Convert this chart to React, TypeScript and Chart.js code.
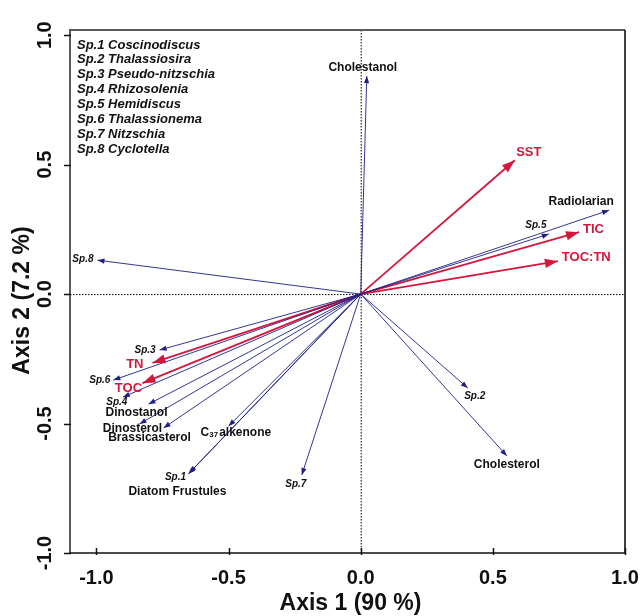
import React, { useEffect, useRef } from 'react';
import { Chart, registerables } from 'chart.js';
Chart.register(...registerables);

// ---- data ----
const speciesNames = ['Sp.1', 'Sp.2', 'Sp.3', 'Sp.4', 'Sp.5', 'Sp.6', 'Sp.7', 'Sp.8'];
const speciesGenus = ['Coscinodiscus', 'Thalassiosira', 'Pseudo-nitzschia', 'Rhizosolenia', 'Hemidiscus', 'Thalassionema', 'Nitzschia', 'Cyclotella'];
const speciesX = [-0.648, 0.405, -0.761, -0.9, 0.712, -0.936, -0.223, -0.996];
const speciesY = [-0.69, -0.363, -0.216, -0.398, 0.232, -0.332, -0.699, 0.131];

const proxyNames = ['Cholestanol', 'Radiolarian', 'Dinostanol', 'Dinosterol', 'Brassicasterol', 'C37 alkenone', 'Diatom Frustules', 'Cholesterol'];
const proxyX = [0.023, 0.94, -0.803, -0.837, -0.746, -0.5, -0.652, 0.553];
const proxyY = [0.842, 0.324, -0.425, -0.502, -0.517, -0.51, -0.695, -0.625];

const envNames = ['SST', 'TIC', 'TOC:TN', 'TN', 'TOC'];
const envX = [0.583, 0.826, 0.746, -0.788, -0.826];
const envY = [0.517, 0.239, 0.127, -0.266, -0.344];

const xTicks = [-1.0, -0.5, 0.0, 0.5, 1.0];
const yTicks = [-1.0, -0.5, 0.0, 0.5, 1.0];
const xTitle = 'Axis 1 (90 %)';
const yTitle = 'Axis 2 (7.2 %)';

// ---- label placement (pixel offsets from arrow tip) ----
type Off = [number, number, CanvasTextAlign];
const speciesLabelOff: Off[] = [
  [-14, 5, 'center'], [7, 8, 'center'], [-4, 0, 'right'], [-6, 5, 'center'],
  [-13, -9, 'center'], [-3, 0, 'right'], [-6, 9, 'center'], [-4, -1, 'right'],
];
const proxyLabelOff: Off[] = [
  [-4, -8, 'center'], [-28, -9, 'center'], [-12, 9, 'center'], [-7, 5, 'center'],
  [-14, 10, 'center'], [-28, 7, 'left'], [-11, 18, 'center'], [0, 9, 'center'],
];
const envLabelOff: Off[] = [
  [14, -8, 'center'], [4, -3, 'left'], [4, -4, 'left'], [-9, 1, 'right'], [-14, 5, 'center'],
];

const BLUE = '#1f1f86';
const RED = '#d3173d';
const FONT = 'Arial, "Liberation Sans", Helvetica, sans-serif';

function drawHead(ctx: CanvasRenderingContext2D, x0: number, y0: number, x1: number, y1: number, len: number, hw: number, color: string) {
  const a = Math.atan2(y1 - y0, x1 - x0);
  ctx.save();
  ctx.fillStyle = color;
  ctx.beginPath();
  ctx.moveTo(x1, y1);
  ctx.lineTo(x1 - len * Math.cos(a) + hw * Math.sin(a), y1 - len * Math.sin(a) - hw * Math.cos(a));
  ctx.lineTo(x1 - len * Math.cos(a) - hw * Math.sin(a), y1 - len * Math.sin(a) + hw * Math.cos(a));
  ctx.closePath();
  ctx.fill();
  ctx.restore();
}

const biplotPlugin = {
  id: 'biplot',
  beforeDatasetsDraw(chart: any) {
    const { ctx, chartArea, scales } = chart;
    const x0 = scales.x.getPixelForValue(0);
    const y0 = scales.y.getPixelForValue(0);
    ctx.save();
    ctx.strokeStyle = '#000';
    ctx.lineWidth = 1;
    ctx.setLineDash([1.5, 1.5]);
    ctx.beginPath();
    ctx.moveTo(x0 + 0.5, chartArea.top);
    ctx.lineTo(x0 + 0.5, chartArea.bottom);
    ctx.moveTo(chartArea.left, y0 + 0.5);
    ctx.lineTo(chartArea.right, y0 + 0.5);
    ctx.stroke();
    ctx.restore();
  },
  afterDatasetsDraw(chart: any) {
    const { ctx, chartArea, scales } = chart;
    const sx = scales.x, sy = scales.y;
    const ox = sx.getPixelForValue(0), oy = sy.getPixelForValue(0);

    // arrowheads
    speciesX.forEach((v, i) => drawHead(ctx, ox, oy, sx.getPixelForValue(v), sy.getPixelForValue(speciesY[i]), 7, 2.6, BLUE));
    proxyX.forEach((v, i) => drawHead(ctx, ox, oy, sx.getPixelForValue(v), sy.getPixelForValue(proxyY[i]), 7, 2.6, BLUE));
    envX.forEach((v, i) => drawHead(ctx, ox, oy, sx.getPixelForValue(v), sy.getPixelForValue(envY[i]), 13, 4.6, RED));

    ctx.save();
    ctx.textBaseline = 'middle';
    // species labels
    ctx.fillStyle = '#111';
    ctx.font = `italic bold 10px ${FONT}`;
    speciesNames.forEach((n, i) => {
      const [dx, dy, al] = speciesLabelOff[i];
      ctx.textAlign = al;
      ctx.fillText(n, sx.getPixelForValue(speciesX[i]) + dx, sy.getPixelForValue(speciesY[i]) + dy);
    });
    // proxy labels
    proxyNames.forEach((n, i) => {
      const [dx, dy, al] = proxyLabelOff[i];
      const px = sx.getPixelForValue(proxyX[i]) + dx;
      const py = sy.getPixelForValue(proxyY[i]) + dy;
      if (n.startsWith('C37')) {
        ctx.textAlign = 'left';
        ctx.font = `bold 12px ${FONT}`;
        ctx.fillText('C', px, py);
        const w1 = ctx.measureText('C').width;
        ctx.font = `bold 8px ${FONT}`;
        ctx.fillText('37', px + w1, py + 2);
        const w2 = ctx.measureText('37').width;
        ctx.font = `bold 12px ${FONT}`;
        ctx.fillText(n.slice(4), px + w1 + w2 + 1, py);
      } else {
        ctx.textAlign = al;
        ctx.font = `bold 12px ${FONT}`;
        ctx.fillText(n, px, py);
      }
    });
    // env labels
    ctx.fillStyle = RED;
    ctx.font = `bold 13px ${FONT}`;
    envNames.forEach((n, i) => {
      const [dx, dy, al] = envLabelOff[i];
      ctx.textAlign = al;
      ctx.fillText(n, sx.getPixelForValue(envX[i]) + dx, sy.getPixelForValue(envY[i]) + dy);
    });

    // legend block
    ctx.fillStyle = '#111';
    ctx.textAlign = 'left';
    ctx.font = `italic bold 13px ${FONT}`;
    speciesNames.forEach((n, i) => {
      ctx.fillText(`${n} ${speciesGenus[i]}`, chartArea.left + 7, chartArea.top + 15 + i * 14.9);
    });
    ctx.restore();
  },
  afterDraw(chart: any) {
    const { ctx, chartArea, scales } = chart;
    const sx = scales.x, sy = scales.y;
    const { left, right, top, bottom } = chartArea;
    ctx.save();
    // frame
    ctx.lineWidth = 2;
    ctx.strokeStyle = '#5a5a5a';
    ctx.beginPath();
    ctx.moveTo(left, bottom);
    ctx.lineTo(left, top);
    ctx.lineTo(right, top);
    ctx.stroke();
    ctx.lineWidth = 1.6;
    ctx.strokeStyle = '#111';
    ctx.beginPath();
    ctx.moveTo(right, top);
    ctx.lineTo(right, bottom);
    ctx.lineTo(left, bottom);
    ctx.stroke();
    // ticks
    ctx.lineWidth = 1.5;
    ctx.beginPath();
    xTicks.forEach((v) => {
      const px = Math.round(sx.getPixelForValue(v)) + 0.5;
      ctx.moveTo(px, bottom + 2);
      ctx.lineTo(px, bottom - 5);
    });
    yTicks.forEach((v) => {
      const py = Math.round(sy.getPixelForValue(v)) + 0.5;
      ctx.moveTo(left - 6, py);
      ctx.lineTo(left + 1, py);
    });
    ctx.stroke();
    // tick labels
    ctx.fillStyle = '#111';
    ctx.font = `bold 20px ${FONT}`;
    ctx.textAlign = 'center';
    ctx.textBaseline = 'middle';
    xTicks.forEach((v) => {
      ctx.fillText(v.toFixed(1), sx.getPixelForValue(v), bottom + 25);
    });
    yTicks.forEach((v) => {
      ctx.save();
      ctx.translate(left - 25, sy.getPixelForValue(v));
      ctx.rotate(-Math.PI / 2);
      ctx.fillText(v.toFixed(1), 0, 0);
      ctx.restore();
    });
    // titles
    ctx.font = `bold 23px ${FONT}`;
    ctx.fillText(xTitle, (left + right) / 2 + 3, bottom + 51);
    ctx.save();
    ctx.translate(23, (top + bottom) / 2 + 9);
    ctx.rotate(-Math.PI / 2);
    ctx.fillText(yTitle, 0, 0);
    ctx.restore();
    ctx.restore();
  },
};

export default function App() {
  const ref = useRef<HTMLCanvasElement>(null);
  useEffect(() => {
    if (!ref.current) return;
    const shaft = (xs: number[], ys: number[], color: string, w: number) =>
      xs.map((v, i) => ({
        data: [{ x: 0, y: 0 }, { x: v, y: ys[i] }],
        borderColor: color,
        backgroundColor: color,
        borderWidth: w,
        pointRadius: 0,
        showLine: true,
      }));
    const chart = new Chart(ref.current, {
      type: 'scatter',
      data: {
        datasets: [
          ...shaft(speciesX, speciesY, BLUE, 0.9),
          ...shaft(proxyX, proxyY, BLUE, 0.9),
          ...shaft(envX, envY, RED, 1.8),
        ],
      },
      options: {
        responsive: false,
        maintainAspectRatio: false,
        devicePixelRatio: 1,
        animation: false,
        layout: { padding: { top: 30, right: 16, left: 0, bottom: 0 } },
        plugins: { legend: { display: false }, tooltip: { enabled: false } },
        scales: {
          x: {
            type: 'linear', min: -1.1, max: 1.0,
            grid: { display: false }, border: { display: false },
            ticks: { display: false },
            afterFit: (s: any) => { s.height = 63; },
          },
          y: {
            type: 'linear', min: -1.0, max: 1.02,
            grid: { display: false }, border: { display: false },
            ticks: { display: false },
            afterFit: (s: any) => { s.width = 70; },
          },
        },
      } as any,
      plugins: [biplotPlugin],
    });
    return () => chart.destroy();
  }, []);
  return (
    <div style={{ position: 'absolute', left: 0, top: 0, width: 641, height: 616, background: '#fff' }}>
      <canvas ref={ref} width={641} height={616} style={{ width: 641, height: 616, display: 'block' }} />
    </div>
  );
}
